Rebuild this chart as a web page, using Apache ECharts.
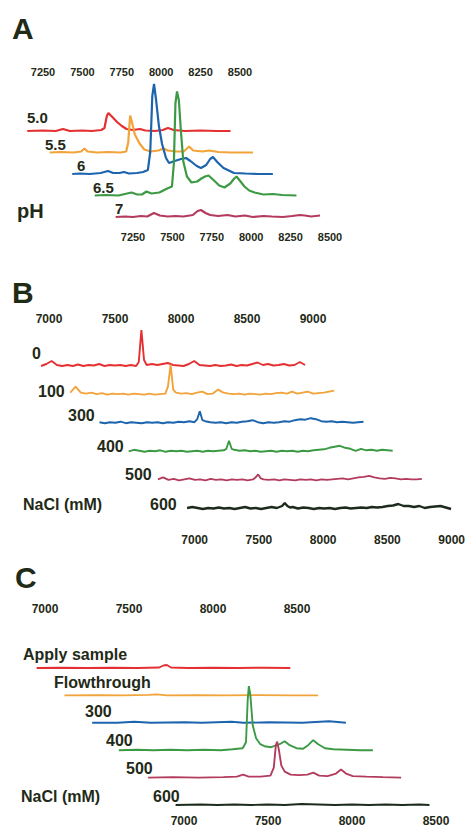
<!DOCTYPE html>
<html>
<head>
<meta charset="utf-8">
<script src="https://cdn.jsdelivr.net/npm/echarts@6/dist/echarts.min.js"></script>
<style>
    html, body { margin: 0; padding: 0; background: #fff; }
    #chart { width: 468px; height: 827px; }
</style>
</head>
<body>
<div id="chart"></div>
<script>
// ---------- panel A : pH ----------
const ticksA = [7250, 7500, 7750, 8000, 8250, 8500];
const namesA = ['5.0', '5.5', '6', '6.5', '7'];
const ph50 = [[7150,0],[7250,0.5],[7330,0],[7377,2],[7420,0],[7500,0.5],[7560,0],[7620,1],[7640,3],[7655,15],[7665,18],[7690,14],[7720,9],[7750,5],[7780,2],[7820,1],[7865,2],[7900,0.5],[7960,0],[8010,1],[8043,3],[8080,1],[8150,0],[8250,0.5],[8350,0],[8440,0]];
const ph55 = [[7150,0],[7220,0.5],[7300,0],[7350,1],[7370,4],[7390,1],[7450,0],[7520,0.5],[7600,0],[7635,1],[7648,10],[7660,37],[7672,30],[7690,18],[7720,9],[7750,3],[7790,1],[7840,2],[7872,4],[7900,2],[7950,1],[8000,1],[8035,6],[8060,2],[8120,1],[8160,2],[8220,0.5],[8300,0],[8440,0]];
const ph60 = [[7150,0],[7200,0.5],[7260,0],[7330,1],[7377,3],[7410,1],[7450,1],[7478,2],[7510,0.5],[7560,1],[7600,2],[7630,4],[7645,22],[7658,78],[7669,90],[7682,74],[7700,48],[7720,30],[7745,16],[7764,11],[7800,13],[7840,15],[7872,16],[7900,13],[7940,8],[7967,6],[8000,9],[8025,15],[8043,17],[8070,12],[8110,6],[8150,3],[8176,1],[8250,0.5],[8330,0],[8423,0]];
const ph65 = [[7150,0],[7220,0.5],[7300,0],[7383,3],[7420,1],[7450,1],[7478,4],[7510,2],[7560,3],[7610,7],[7640,9],[7652,32],[7662,92],[7672,104],[7684,95],[7696,66],[7712,34],[7735,19],[7764,13],[7800,14],[7827,17],[7850,19],[7872,20],[7900,16],[7940,10],[7973,8],[8010,12],[8035,17],[8050,19],[8070,15],[8100,9],[8130,5],[8164,3],[8220,1],[8280,1.5],[8340,0.5],[8430,0]];
const ph70 = [[7140,0],[7200,0.5],[7250,0],[7300,1],[7340,0.5],[7383,4],[7420,1.5],[7470,0.5],[7520,1],[7570,0.5],[7630,2],[7660,6],[7681,7],[7710,4],[7740,2],[7790,1],[7850,2],[7900,0.5],[7960,1.5],[8010,0],[8080,1],[8130,0.5],[8200,0],[8260,1],[8310,2],[8340,1.5],[8380,0.5],[8437,1.5]];

// ---------- panel B : NaCl elution ----------
const ticksB = [7000, 7500, 8000, 8500, 9000];
const namesB = ['0', '100', '300', '400', '500', '600'];
const massB = [6940,6980,7020,7060,7100,7140,7180,7220,7260,7300,7340,7380,7420,7460,7500,7540,7580,7620,7660,7680,7700,7720,7740,7780,7820,7860,7900,7940,7980,8020,8060,8100,8140,8180,8220,8260,8300,8340,8380,8420,8460,8500,8540,8580,8620,8660,8700,8740,8780,8820,8860,8900,8940];
const nacl0   = [0,2,5,1,0,1,0,1.5,0,1,0.5,2,0,1,0.5,1,0,1,0,4,36,6,1,2,1,2,3,1,0.5,0,2,5,1,0.5,0,1,0,0.5,1.5,0,1,0.5,2,3.5,1,2,0.5,1,2,0.5,1,4,1];
const nacl100 = [2,8,2,1,2,0.5,1.5,0,1,0.5,1,0,1,0.5,0,1,0,0.5,1,8,30,5,2,1,1.5,0.5,2,3,0.5,1,5,2,1,0.5,1,0,1,0.5,0,1,0.5,1.5,2,1,3,1,2,3,1,1.5,2,3,4];
const nacl300 = [1,0,1,0.5,1.5,0,1,0.5,0,1,0.5,1,0,1,0.5,1.5,1,2,1,4,12,3,2,1,0.5,1,0,1,0.5,1.5,2,3,1,0,1,0.5,1,2,1.5,3,4,3.5,5,4,2,1.5,2,1,1.5,1,0.5,1,1.5];
const nacl400 = [0.5,2,1,0,1,0.5,1.5,0,1,0.5,1,0,0.5,1,0,1,0.5,1,1.5,3,11,3,2,1,1.5,0.5,1,0,0.5,1,0,1,0.5,1,0,1,0.5,1.5,2,2.5,4,5,6,4,3,1,3,1.5,2,1,2,1.5,1];
const nacl500 = [1,3,0.5,1.5,0,1,2,0.5,1,0,1.5,0.5,1,0,1,0.5,1,0,1,3,6,2,1,0.5,1,0,1,0.5,0,1,0.5,1,0,1,0.5,1,1.5,2,1,2,3,3.5,4.5,3,2,1.5,2.5,2,1,1.5,1,1,1.5];
const nacl600 = [1,2,1,0,1,0.5,1.5,0.5,1,0,1,2,0.5,1,0,1,2,1,3,6,3,1.5,2,0.5,1.5,1,0,1,0.5,1,0,1,1.5,0.5,1,1.5,1,2,1.5,2,3,3.5,5,3,3,2,3,1,2,2.5,3,1.5,0];

// ---------- panel C : column fractions ----------
const ticksC = [7000, 7500, 8000, 8500];
const namesC = ['Apply sample', 'Flowthrough', '300', '400', '500', '600'];
const fracApply = [[6950,0],[7100,0.3],[7250,0],[7400,0.3],[7550,0],[7680,0.5],[7705,2.5],[7725,3],[7750,0.5],[7850,0],[8000,0.3],[8150,0],[8300,0.3],[8460,0]];
const fracFlow  = [[6950,0],[7150,0.3],[7300,0],[7450,0.5],[7500,1],[7560,0],[7750,0.3],[7900,0],[8100,0.3],[8300,0],[8460,0]];
const frac300   = [[6950,0],[7100,0],[7200,1],[7300,0],[7500,0.5],[7600,0],[7780,1],[7850,0],[8000,0.5],[8200,0],[8360,1.5],[8460,0]];
const frac400   = [[6943,0],[7050,0.5],[7150,0],[7250,0.5],[7350,0],[7450,0.5],[7550,0],[7620,1],[7680,2],[7700,8],[7710,50],[7717,64],[7726,55],[7740,25],[7760,12],[7785,6],[7810,4],[7850,3],[7900,6],[7930,9],[7960,5],[8000,2],[8040,1.5],[8070,5],[8100,10],[8130,6],[8170,2],[8220,1],[8300,0.5],[8380,0],[8455,0]];
const frac500   = [[6952,0],[7100,0.5],[7250,0],[7400,0.5],[7480,1],[7518,3],[7550,1],[7620,1],[7680,2],[7700,10],[7712,32],[7720,36],[7730,28],[7745,12],[7765,6],[7800,3],[7850,2.5],[7900,3],[7935,5],[7970,2],[8020,1.5],[8070,4],[8100,8],[8130,4],[8170,1.5],[8250,1],[8350,0.5],[8458,0]];
const frac600   = [[6950,0],[7100,0.5],[7200,0],[7300,0.5],[7400,0],[7500,0.5],[7600,0],[7700,1],[7800,0.5],[7900,0],[8000,0.5],[8100,0],[8200,0.5],[8300,0],[8400,0.5],[8461,0]];

const colors = ['#e53032', '#f2a33a', '#1c64ad', '#3c9a44', '#b33b5e', '#1d2b1d'];
const ink = '#1f2a17';
const FONT = '"Liberation Sans", Arial, sans-serif';

const zip = (xs, ys) => xs.map((x, i) => [x, ys[i]]);

// layout of the three stacked panels
const panels = [
    {
        letter: 'A', letterPos: [12, 28], min: 7000, max: 8500, left: 3.6, width: 236.4, dx: 22.5,
        base0: 131, dy: 21.5, ymin: -5, ymax: 115, topY: 72, bottomY: 237, ticks: ticksA, tickSize: 11,
        names: namesA, traces: [ph50, ph55, ph60, ph65, ph70], lw: 2.2, labelSize: 15,
        labelPos: [[27, 117], [45, 144], [77, 165], [93, 187], [115, 208]],
        extra: [['pH', 17, 211, 20]]
    },
    {
        letter: 'B', letterPos: [12, 292], min: 6900, max: 9000, left: 35.8, width: 277.2, dx: 29.2,
        base0: 366, dy: 28.6, ymin: -5, ymax: 55, topY: 319, bottomY: 540, ticks: ticksB, tickSize: 12,
        names: namesB,
        traces: [nacl0, nacl100, nacl300, nacl400, nacl500, nacl600].map(v => zip(massB, v)),
        lw: 1.9, labelSize: 16,
        labelPos: [[32, 353], [38, 391], [68, 415], [97, 446], [125, 474], [150, 504]],
        extra: [['NaCl (mM)', 23, 504, 16]]
    },
    {
        letter: 'C', letterPos: [15, 577], min: 6900, max: 8500, left: 28.2, width: 268.8, dx: 27.8,
        base0: 668, dy: 27.4, ymin: -5, ymax: 75, topY: 609, bottomY: 822, ticks: ticksC, tickSize: 12,
        names: namesC, traces: [fracApply, fracFlow, frac300, frac400, frac500, frac600],
        lw: 1.9, labelSize: 16,
        labelPos: [[23, 654], [54, 682], [85, 711], [106, 740], [126, 768], [153, 796]],
        extra: [['NaCl (mM)', 21, 796, 16]]
    }
];

const grid = [], xAxis = [], yAxis = [], series = [], texts = [];

function addTickAxis(p, left, labelY) {
    const gi = grid.length;
    grid.push({ left: left, width: p.width, top: labelY - 8, height: 1 });
    xAxis.push({
        gridIndex: gi, type: 'value', min: p.min, max: p.max, position: 'bottom',
        axisLine: { show: false }, axisTick: { show: false }, splitLine: { show: false },
        axisLabel: {
            customValues: p.ticks, margin: 1, fontSize: p.tickSize, fontWeight: 'bold',
            fontFamily: FONT, color: ink, formatter: v => String(v)
        }
    });
    yAxis.push({ gridIndex: gi, type: 'value', show: false, min: 0, max: 1 });
}

panels.forEach(p => {
    const n = p.traces.length;
    addTickAxis(p, p.left, p.topY);
    addTickAxis(p, p.left + (n - 1) * p.dx, p.bottomY);

    p.traces.forEach((data, i) => {
        const gi = grid.length;
        const base = p.base0 + i * p.dy;
        grid.push({ left: p.left + i * p.dx, width: p.width, top: base - p.ymax, height: p.ymax - p.ymin });
        xAxis.push({ gridIndex: gi, type: 'value', min: p.min, max: p.max, show: false });
        yAxis.push({ gridIndex: gi, type: 'value', min: p.ymin, max: p.ymax, show: false });
        series.push({
            type: 'line', name: p.letter + ' ' + p.names[i], xAxisIndex: gi, yAxisIndex: gi,
            data: data, showSymbol: false, symbol: 'none', silent: true,
            lineStyle: { color: colors[i], width: (i === 5 && p.letter === 'B') ? 2.4 : p.lw }
        });
        texts.push({
            type: 'text', x: p.labelPos[i][0], y: p.labelPos[i][1],
            style: { text: p.names[i], fill: ink, font: 'bold ' + p.labelSize + 'px ' + FONT, verticalAlign: 'middle' }
        });
    });

    p.extra.forEach(e => texts.push({
        type: 'text', x: e[1], y: e[2],
        style: { text: e[0], fill: ink, font: 'bold ' + e[3] + 'px ' + FONT, verticalAlign: 'middle' }
    }));
    texts.push({
        type: 'text', x: p.letterPos[0], y: p.letterPos[1],
        style: { text: p.letter, fill: ink, font: 'bold 30px ' + FONT, verticalAlign: 'middle' }
    });
});

const chart = echarts.init(document.getElementById('chart'), null, { renderer: 'svg' });
chart.setOption({
    animation: false,
    backgroundColor: '#ffffff',
    grid: grid,
    xAxis: xAxis,
    yAxis: yAxis,
    series: series,
    graphic: { elements: texts }
});
</script>
</body>
</html>
